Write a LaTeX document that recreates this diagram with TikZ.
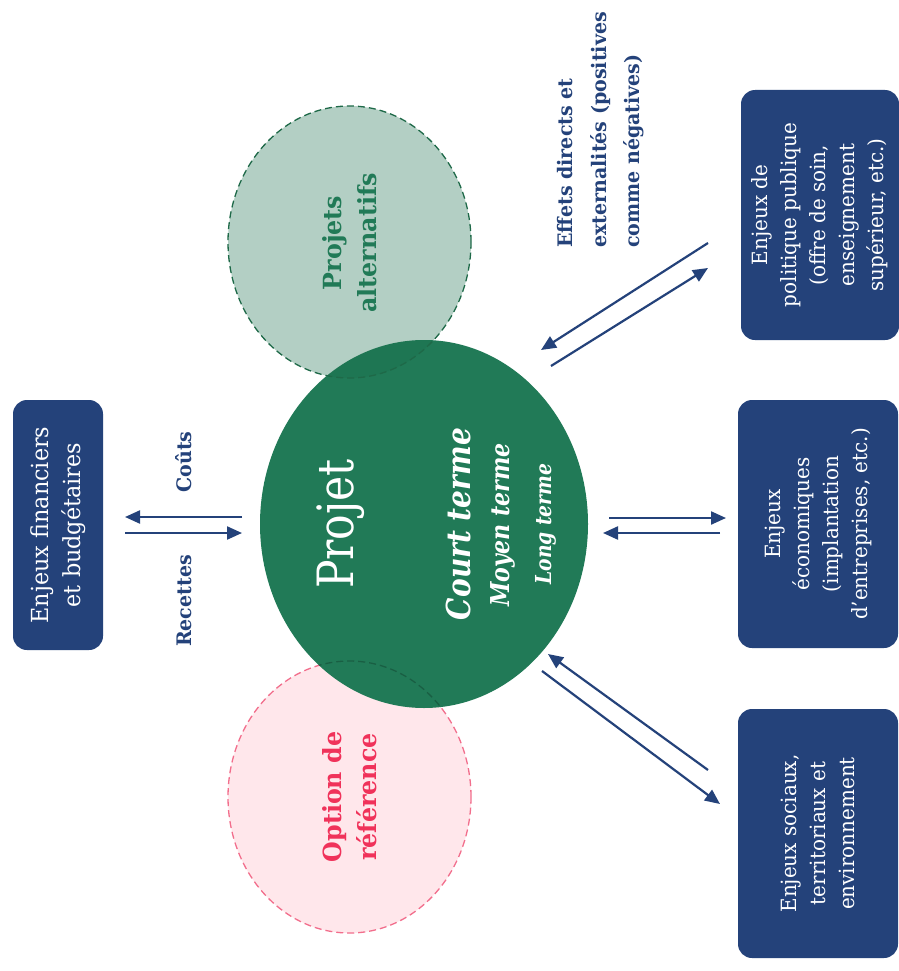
\documentclass[tikz,border=0pt]{standalone}
\usepackage{fontspec}
\setmainfont{DejaVu Serif}[FakeStretch=0.95]
\newfontfamily\narrowfont{DejaVu Serif}[FakeStretch=0.85]
\usetikzlibrary{arrows.meta,shapes.geometric}
\definecolor{navy}{RGB}{36,66,122}
\definecolor{projgreen}{RGB}{33,122,87}
\definecolor{altgreen}{RGB}{26,110,76}
\definecolor{altborder}{RGB}{30,105,72}
\definecolor{pinkfill}{RGB}{255,231,235}
\definecolor{pinkborder}{RGB}{242,110,140}
\definecolor{pinktext}{RGB}{240,50,90}
\begin{document}
\begin{tikzpicture}[x=1pt,y=-1pt,
  enjeu/.style={fill=navy, rounded corners=14pt, rotate=90, text=white, align=center,
    font=\fontsize{21}{29}\selectfont, inner sep=0pt},
  flow/.style={draw=navy, line width=2.2pt, -{Triangle[length=15pt,width=13pt]}},
  lbl/.style={rotate=90, text=navy, font=\bfseries\fontsize{20}{33.5}\selectfont, align=center, inner sep=0pt},
  oval/.style={ellipse, inner sep=0pt, outer sep=0pt},
  dashline/.style={line width=1.3pt, dash pattern=on 7pt off 4pt},
  inside/.style={rotate=90, text=white, inner sep=0pt}
]
\useasboundingbox (0,0) rectangle (898,971);
\fill[white] (0,0) rectangle (898,971);

% reference option (under the project)
\node[oval, fill=pinkfill, draw=pinkborder, dashline, minimum width=243pt, minimum height=272pt] (ref) at (349.5,797) {};
% main project
\node[oval, fill=projgreen, minimum width=328pt, minimum height=368pt] (projet) at (424,524) {};
\begin{scope}
  \clip (424,524) ellipse [x radius=164, y radius=184];
  \draw[black, opacity=0.22, dashline] (349.5,797) ellipse [x radius=121.5, y radius=136];
\end{scope}
% alternative projects (on top, translucent)
\node[oval, fill=altgreen, fill opacity=0.33, draw=altborder, dashline, minimum width=243pt, minimum height=272pt] (alt) at (349.5,242) {};

% texts in circles
\node[rotate=90, text=projgreen, font=\bfseries\fontsize{25}{35}\selectfont, align=center, inner sep=0pt] (alttxt) at (350,243) {Projets\\alternatifs};
\node[rotate=90, text=pinktext, font=\bfseries\fontsize{25}{35}\selectfont, align=center, inner sep=0pt] (reftxt) at (350,797) {Option de\\référence};
\node[inside, font=\narrowfont\fontsize{50}{50}\selectfont] (projtxt) at (341,524) {Projet};
\node[inside, font=\narrowfont\bfseries\itshape\fontsize{33}{33}\selectfont] (court) at (458,524) {Court terme};
\node[inside, font=\narrowfont\bfseries\itshape\fontsize{26}{26}\selectfont] (moyen) at (503,525) {Moyen terme};
\node[inside, font=\narrowfont\bfseries\itshape\fontsize{22}{22}\selectfont] (long) at (546,524) {Long terme};

% boxes
\node[enjeu, font=\fontsize{23.5}{32}\selectfont, minimum width=250pt, minimum height=90pt] (fin) at (58,525) {Enjeux financiers\\et budgétaires};
\node[enjeu, minimum width=250pt, minimum height=158pt] (pol) at (820,215) {Enjeux de\\politique publique\\(offre de soin,\\enseignement\\supérieur, etc.)};
\node[enjeu, minimum width=248pt, minimum height=160pt] (eco) at (818,524) {Enjeux\\économiques\\(implantation\\d’entreprises, etc.)};
\node[enjeu, minimum width=249pt, minimum height=160pt] (soc) at (818,833.5) {Enjeux sociaux,\\territoriaux et\\environnement};

% labels
\node[lbl] (couts) at (184,462) {Coûts};
\node[lbl] (recettes) at (184,601) {Recettes};
\node[lbl, align=left, anchor=west] (effets) at (601,248) {Effets directs et\\externalités (positives\\comme négatives)};

% connector end points
\coordinate (fa) at (242,517); \coordinate (fb) at (125,517);
\coordinate (fc) at (125,533); \coordinate (fd) at (242,533);
\coordinate (ea) at (609,518); \coordinate (eb) at (726,518);
\coordinate (ec) at (720,533); \coordinate (ed) at (603,533);
\coordinate (pa) at (708,243); \coordinate (pb) at (541,350);
\coordinate (pc) at (551,366); \coordinate (pd) at (708,268);
\coordinate (sa) at (708,770); \coordinate (sb) at (548,654);
\coordinate (sc) at (542,671); \coordinate (sd) at (720,804);

\draw[flow] (fa) -- (fb);
\draw[flow] (fc) -- (fd);
\draw[flow] (ea) -- (eb);
\draw[flow] (ec) -- (ed);
\draw[flow] (pa) -- (pb);
\draw[flow] (pc) -- (pd);
\draw[flow] (sa) -- (sb);
\draw[flow] (sc) -- (sd);
\end{tikzpicture}
\end{document}
